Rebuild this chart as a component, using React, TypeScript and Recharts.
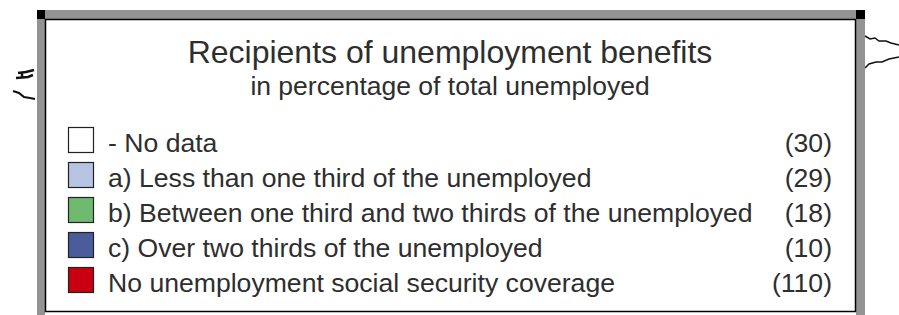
import React from "react";
import { PieChart, Pie, Cell, Legend } from "recharts";

const categories = [
  "- No data",
  "a) Less than one third of the unemployed",
  "b) Between one third and two thirds of the unemployed",
  "c) Over two thirds of the unemployed",
  "No unemployment social security coverage",
];
const counts = [30, 29, 18, 10, 110];
const colors = ["#ffffff", "#b6c3e1", "#6fba6f", "#4a5d9a", "#c8000f"];

const title = "Recipients of unemployment benefits";
const subtitle = "in percentage of total unemployed";

const data = categories.map((name, i) => ({ name, value: counts[i] }));

const FONT = "'Liberation Sans', Arial, sans-serif";
const INK = "#2e2e2e";
const FRAME = "#939393";

function LegendBox(props: any) {
  const payload: any[] = props.payload || [];
  const colorOf = (name: string, i: number) => {
    const p = payload.find((e) => e.value === name);
    return (p && p.color) || colors[i];
  };

  return (
    <svg width={899} height={315} style={{ display: "block" }}>
      <rect x={0} y={0} width={899} height={315} fill="#fff" />

      {/* map fragments peeking out around the box */}
      <path d="M865 36 L870 39 L875 38 L879 41 L886 41 L891 43 L899 45" fill="none" stroke="#111" strokeWidth={1.5} />
      <path d="M865 68 L869 64 L876 62 L882 62 L889 59 L899 57" fill="none" stroke="#111" strokeWidth={1.5} />
      <path d="M18 73 L26 72 L34 70 M16 78 L28 77 L33 75 M22 73 L22 78" fill="none" stroke="#111" strokeWidth={2.5} />
      <path d="M13 91 L19 93 L24 97 L30 98 L35 99" fill="none" stroke="#111" strokeWidth={2.2} />

      {/* frame */}
      <rect x={37} y={10} width={828} height={9} fill={FRAME} />
      <rect x={37} y={10} width={8} height={305} fill={FRAME} />
      <rect x={856} y={10} width={9} height={305} fill={FRAME} />
      <rect x={37} y={10} width={8} height={9} fill="#000" />
      <rect x={856} y={10} width={9} height={9} fill="#000" />
      <rect x={45.5} y={19.5} width={810} height={292} fill="#fff" stroke="#000" strokeWidth={1.5} />

      <text x={450} y={63} textAnchor="middle" fontFamily={FONT} fontSize={32} fill={INK}>
        {title}
      </text>
      <text x={450} y={95} textAnchor="middle" fontFamily={FONT} fontSize={26.5} fill={INK}>
        {subtitle}
      </text>

      {categories.map((name, i) => {
        const top = 127 + i * 35;
        return (
          <g key={name}>
            <rect x={68.5} y={top + 0.5} width={25} height={25} fill={colorOf(name, i)} stroke="#222" strokeWidth={1.2} />
            <text x={108} y={top + 25} fontFamily={FONT} fontSize={26.6} fill={INK}>
              {name}
            </text>
            <text x={832} y={top + 25} textAnchor="end" fontFamily={FONT} fontSize={26.6} fill={INK}>
              ({counts[i]})
            </text>
          </g>
        );
      })}
    </svg>
  );
}

export default function App() {
  return (
    <div style={{ position: "absolute", left: 0, top: 0, width: 899, height: 315, background: "#fff" }}>
      <PieChart width={899} height={315} margin={{ top: 0, right: 0, bottom: 0, left: 0 }}>
        <Pie data={data} dataKey="value" nameKey="name" cx={450} cy={160} outerRadius={0} isAnimationActive={false}>
          {data.map((d, i) => (
            <Cell key={d.name} fill={colors[i]} />
          ))}
        </Pie>
        <Legend content={<LegendBox />} wrapperStyle={{ left: 0, top: 0, width: 899, height: 315 }} />
      </PieChart>
    </div>
  );
}
